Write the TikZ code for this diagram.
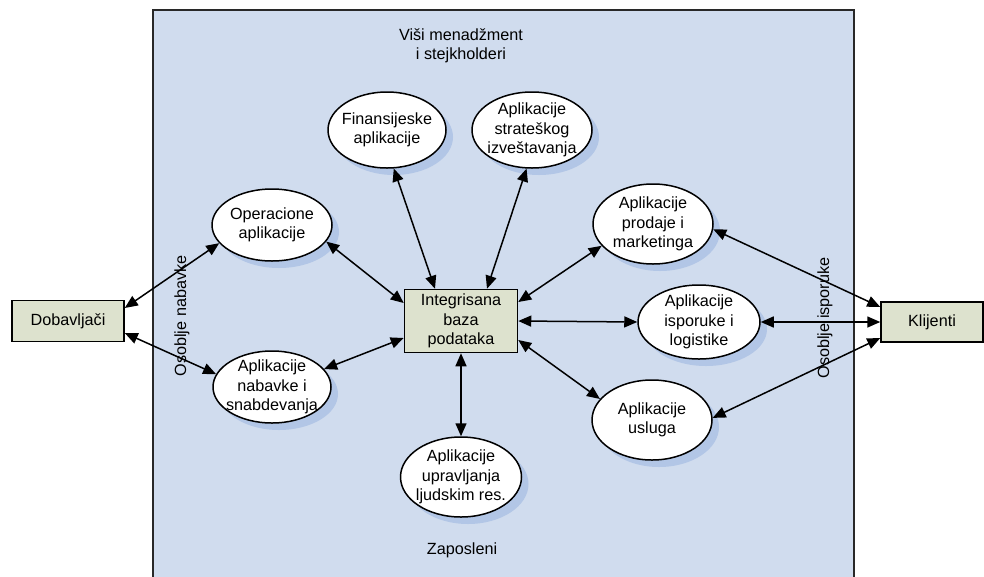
\documentclass[tikz,border=0pt]{standalone}
\usepackage{fontspec}
\setmainfont{Liberation Sans}
\usetikzlibrary{shapes.geometric,arrows.meta,shadows}
\definecolor{bgblue}{RGB}{208,220,238}
\definecolor{shadowblue}{RGB}{178,198,230}
\definecolor{boxfill}{RGB}{221,226,206}
\definecolor{frame}{RGB}{40,40,40}
\tikzset{
  txt/.style={font=\fontsize{16.2}{19.5}\selectfont, align=center, inner sep=0pt},
  app/.style={txt, ellipse, draw=black, line width=1.5pt, fill=white, inner sep=-10pt,
    minimum width=120pt, minimum height=76pt,
    drop shadow={shadow xshift=7pt, shadow yshift=-7pt, fill=shadowblue, opacity=1}},
  sqbox/.style={txt, rectangle, draw=black, line width=1.5pt, fill=boxfill},
  link/.style={line width=1.5pt, {Triangle[length=13pt,width=11pt]}-{Triangle[length=13pt,width=11pt]}},
}
\begin{document}
\begin{tikzpicture}[x=1pt,y=-1pt]
\useasboundingbox (0,0) rectangle (984,576);
\clip (0,0) rectangle (984,576);
\fill[white] (0,0) rectangle (984,576);
% big area
\draw[fill=bgblue, draw=frame, line width=1.2pt] (153,10) rectangle (854,590);
\node[txt] (top) at (461,46) {Viši menadžment\\i stejkholderi};
\node[txt] (bottom) at (462,550) {Zaposleni};
\node[txt, rotate=90] (osn) at (182,316) {Osoblje nabavke};
\node[txt, rotate=90] (osi) at (825,318) {Osoblje isporuke};
% boxes
\node[sqbox, minimum width=112pt, minimum height=41pt] (dob) at (68,321) {Dobavljači};
\node[sqbox, minimum width=102pt, minimum height=40pt] (kli) at (932,322) {Klijenti};
\node[sqbox, minimum width=113pt, minimum height=63pt] (int) at (461,321) {Integrisana\\baza\\podataka};
% applications
\node[app, minimum width=120pt, minimum height=72pt] (op) at (272,225) {Operacione\\aplikacije};
\node[app, minimum width=118pt, minimum height=72pt] (nab) at (272,387) {Aplikacije\\nabavke i\\snabdevanja};
\node[app, minimum width=118pt, minimum height=76pt] (fin) at (387,130) {Finansijeske\\aplikacije};
\node[app, minimum width=120pt, minimum height=76pt] (str) at (532,130) {Aplikacije\\strateškog\\izveštavanja};
\node[app, minimum width=120pt, minimum height=80pt] (prod) at (653,224) {Aplikacije\\prodaje i\\marketinga};
\node[app, minimum width=122pt, minimum height=74pt] (isp) at (699,322) {Aplikacije\\isporuke i\\logistike};
\node[app, minimum width=120pt, minimum height=80pt] (usl) at (652,420) {Aplikacije\\usluga};
\node[app, minimum width=121pt, minimum height=80pt] (hr) at (461,477) {Aplikacije\\upravljanja\\ljudskim res.};
% connectors
\draw[link] ([yshift=13pt]dob.east) -- (op.199);
\draw[link] ([yshift=-12pt]dob.east) -- (nab.167);
\draw[link] (op.343) -- ([yshift=18pt]int.west);
\draw[link] (nab.19) -- ([yshift=-17pt]int.west);
\draw[link] (fin.280) -- ([xshift=-26pt]int.north);
\draw[link] (str.262) -- ([xshift=26pt]int.north);
\draw[link] (prod.203) -- ([yshift=19pt]int.east);
\draw[link] (isp.west) -- (int.east);
\draw[link] (usl.158) -- ([yshift=-19pt]int.east);
\draw[link] (hr.north) -- (int.south);
\draw[link] (prod.355) -- ([yshift=15pt]kli.west);
\draw[link] (isp.east) -- (kli.west);
\draw[link] (usl.2) -- ([yshift=-16pt]kli.west);
\end{tikzpicture}
\end{document}
